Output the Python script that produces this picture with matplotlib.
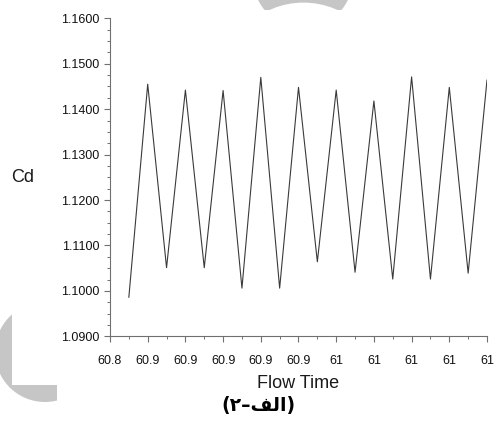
import matplotlib
matplotlib.use("Agg")
import matplotlib.pyplot as plt
from matplotlib.patches import Circle, Rectangle
from matplotlib.ticker import FixedLocator, MultipleLocator, FuncFormatter

# ── Drag coefficient history ────────────────────────────────────────────────
flow_time = [60.85, 60.86, 60.87, 60.88, 60.89, 60.90, 60.91, 60.92, 60.93, 60.94,
             60.95, 60.96, 60.97, 60.98, 60.99, 61.00, 61.01, 61.02, 61.03, 61.04]
cd = [1.0986, 1.1455, 1.1051, 1.1442, 1.1051, 1.1441, 1.1006, 1.1470, 1.1006, 1.1448,
      1.1064, 1.1442, 1.1041, 1.1418, 1.1026, 1.1471, 1.1026, 1.1448, 1.1039, 1.1464]

time_ticks = [60.84, 60.86, 60.88, 60.90, 60.92, 60.94, 60.96, 60.98, 61.00, 61.02, 61.04]
cd_ticks = [1.09, 1.10, 1.11, 1.12, 1.13, 1.14, 1.15, 1.16]

# caption "(الف-۲)" written in shaped, visual order
caption = "(\u06F2\u2013\uFED2\uFEDF\uFE8D)"

W, H = 498, 424
plt.rcParams["font.family"] = ["Liberation Sans", "DejaVu Sans"]

fig = plt.figure(figsize=(W / 100, H / 100), dpi=100)
fig.patch.set_facecolor("white")

# ── Watermark shapes behind the chart (pixel coords, y down) ────────────────
bg = fig.add_axes([0, 0, 1, 1], zorder=0)
bg.set_xlim(0, W)
bg.set_ylim(H, 0)
bg.axis("off")
wm = "#c6c6c6"
bg.add_patch(Circle((303, -22), 50, color=wm, lw=0))
bg.add_patch(Circle((303.5, 84.6), 82, color="white", lw=0))
bg.add_patch(Circle((45, 352), 50, color=wm, lw=0))
# white page areas laid over the watermark
bg.add_patch(Rectangle((12, 0), 45, 385, color="white", lw=0))
bg.add_patch(Rectangle((57, 9.5), W, H, color="white", lw=0))

# ── Main plot ───────────────────────────────────────────────────────────────
ax = fig.add_axes([110 / W, 1 - 336.3 / H, (487 - 110) / W, (336.3 - 18.3) / H], zorder=1)
ax.plot(flow_time, cd, color="#3a3a3a", lw=0.8)

ax.set_xlim(60.84, 61.04)
ax.set_ylim(1.09, 1.16)

ax.xaxis.set_major_locator(FixedLocator(time_ticks))
ax.xaxis.set_minor_locator(MultipleLocator(0.01))
ax.xaxis.set_major_formatter(FuncFormatter(lambda v, p: f"{round(v, 1):g}"))
ax.yaxis.set_major_locator(FixedLocator(cd_ticks))
ax.yaxis.set_minor_locator(MultipleLocator(0.0025))
ax.yaxis.set_major_formatter(FuncFormatter(lambda v, p: f"{v:.4f}"))

for side in ("top", "right"):
    ax.spines[side].set_visible(False)
for side in ("left", "bottom"):
    ax.spines[side].set_color("#707070")
    ax.spines[side].set_linewidth(0.8)

ax.tick_params(which="major", direction="out", length=4.5, width=0.8,
               color="#707070", labelsize=9, labelcolor="#111111", pad=3)
ax.tick_params(which="minor", direction="out", length=2.2, width=0.7, color="#707070")
ax.tick_params(axis="x", which="major", pad=9)

ax.set_xlabel("Flow Time", fontsize=13, color="#1a1a1a", labelpad=6)
ax.set_ylabel("Cd", fontsize=13, color="#1a1a1a", rotation=0, va="center", ha="center")
ax.yaxis.set_label_coords((23 - 110) / (487 - 110), (336.3 - 178) / (336.3 - 18.3))

fig.text(258 / W, 1 - 406 / H, caption, ha="center", va="center",
         fontsize=13.5, fontweight="bold", family=["DejaVu Sans"], color="black")

fig.savefig("out.png", dpi=100, facecolor="white")
